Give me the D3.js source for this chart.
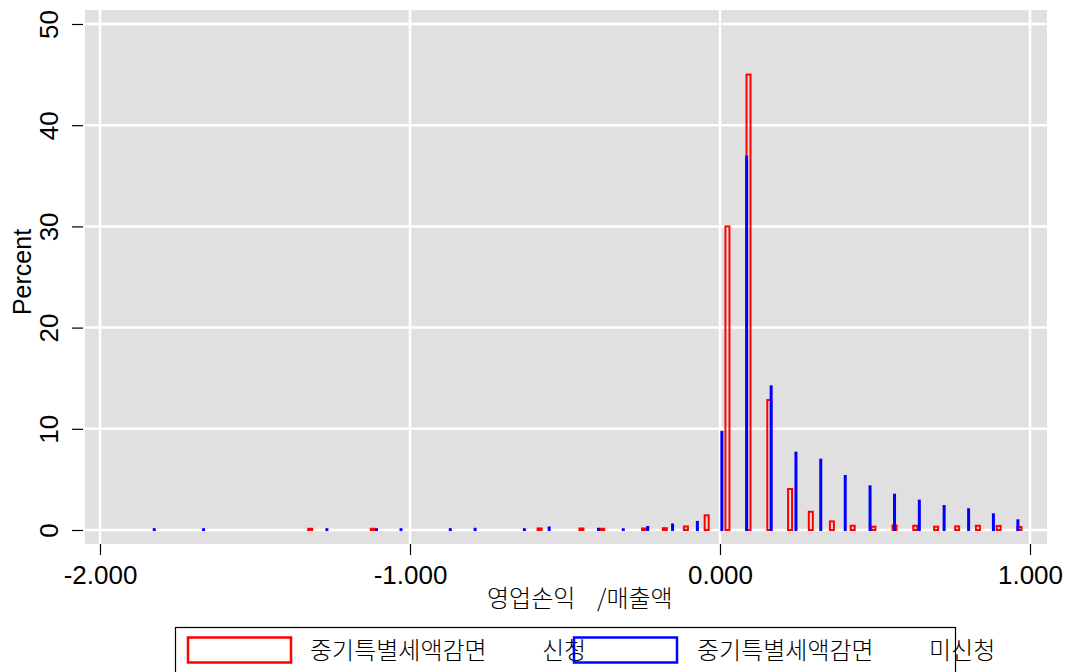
<!DOCTYPE html>
<html>
<head>
<meta charset="utf-8">
<script src="https://cdn.jsdelivr.net/npm/d3@7/dist/d3.min.js"></script>
<style>
  html, body { margin: 0; padding: 0; background: #fff; }
  svg { display: block; }
  .num { font-family: "Liberation Sans", Arial, sans-serif; }
  .kr { font-family: "Noto Sans CJK KR", "Noto Sans", sans-serif; font-weight: 300; }
</style>
</head>
<body>
<svg id="chart" width="1071" height="672"></svg>
<script>
// Histogram of operating profit / sales, split by application for the SME special tax reduction
// Applied group (red): bin midpoints and percent per bin
const appliedMid = [-1.322, -1.120, -0.582, -0.447, -0.380, -0.245, -0.178, -0.110, -0.043,
  0.024, 0.092, 0.159, 0.226, 0.293, 0.361, 0.428, 0.495, 0.563, 0.630, 0.697, 0.765, 0.832, 0.899, 0.966];
const appliedPct = [0.12, 0.12, 0.15, 0.15, 0.12, 0.15, 0.18, 0.35, 1.45,
  30.0, 45.0, 12.85, 4.05, 1.8, 0.85, 0.42, 0.33, 0.45, 0.42, 0.33, 0.36, 0.42, 0.4, 0.3];

// Non-applied group (blue): bin midpoints and percent per bin
const notAppliedMid = [-1.825, -1.666, -1.268, -1.108, -1.029, -0.870, -0.790, -0.631, -0.551,
  -0.392, -0.312, -0.233, -0.153, -0.073, 0.006, 0.086, 0.165, 0.245, 0.325, 0.404, 0.484,
  0.563, 0.643, 0.723, 0.802, 0.882, 0.961];
const notAppliedPct = [0.08, 0.08, 0.08, 0.08, 0.08, 0.08, 0.12, 0.08, 0.25,
  0.12, 0.08, 0.3, 0.55, 0.8, 9.7, 36.9, 14.2, 7.64, 6.95, 5.34, 4.32,
  3.49, 2.9, 2.37, 2.05, 1.55, 0.96];

const xTicks = [-2, -1, 0, 1];
const yTicks = [0, 10, 20, 30, 40, 50];
const xTitle = ["영업손익", "/매출액"];
const yTitle = "Percent";
const legendLabels = [["중기특별세액감면", "신청"], ["중기특별세액감면", "미신청"]];
const seriesColors = ["#ff0000", "#0000ff"];

const svg = d3.select("#chart");

const plot = { left: 85, right: 1047, top: 10, bottom: 544 };
const x = d3.scaleLinear().domain([-2, 1]).range([100, 1030]);
const y = d3.scaleLinear().domain([0, 50]).range([530, 24]);

// plot region background
svg.append("rect")
  .attr("x", plot.left).attr("y", plot.top)
  .attr("width", plot.right - plot.left).attr("height", plot.bottom - plot.top)
  .attr("fill", "#e0e0e0");

// grid lines
const grid = svg.append("g").attr("stroke", "#fff").attr("stroke-width", 2.5);
grid.selectAll("line.h").data(yTicks).join("line").attr("class", "h")
  .attr("x1", plot.left).attr("x2", plot.right)
  .attr("y1", d => y(d)).attr("y2", d => y(d));
grid.selectAll("line.v").data(xTicks).join("line").attr("class", "v")
  .attr("y1", plot.top).attr("y2", plot.bottom)
  .attr("x1", d => x(d)).attr("x2", d => x(d));

// bars: outlined, narrow within each bin
function drawBars(mids, pcts, color, barW) {
  const g = svg.append("g")
    .attr("fill", "none").attr("stroke", color).attr("stroke-width", 2);
  g.selectAll("rect").data(mids.map((m, i) => ({ m, p: pcts[i] }))).join("rect")
    .attr("x", d => x(d.m) - barW / 2)
    .attr("width", barW)
    .attr("y", d => y(d.p))
    .attr("height", d => y(0) - y(d.p));
}
drawBars(appliedMid, appliedPct, seriesColors[0], 4);
drawBars(notAppliedMid, notAppliedPct, seriesColors[1], 1);

// y axis
const yAxis = svg.append("g")
  .attr("transform", `translate(${plot.left - 2},0)`)
  .call(d3.axisLeft(y).tickValues(yTicks).tickSize(11).tickFormat(d3.format("d")));
yAxis.select(".domain").remove();
yAxis.selectAll(".tick line").attr("stroke", "#000").attr("stroke-width", 1.2);
yAxis.selectAll(".tick text")
  .attr("class", "num")
  .attr("font-size", 26).attr("fill", "#000")
  .attr("text-anchor", "middle")
  .attr("x", null).attr("dy", null)
  .attr("transform", "translate(-25,0) rotate(-90)");

// x axis (plain hyphen for the minus sign)
const fmtX = v => d3.format(".3f")(v).replace("\u2212", "-");
const xAxis = svg.append("g")
  .attr("transform", `translate(0,${plot.bottom})`)
  .call(d3.axisBottom(x).tickValues(xTicks).tickSize(11).tickFormat(fmtX));
xAxis.select(".domain").remove();
xAxis.selectAll(".tick line").attr("stroke", "#000").attr("stroke-width", 1.2);
xAxis.selectAll(".tick text")
  .attr("class", "num")
  .attr("font-size", 26).attr("fill", "#000")
  .attr("y", 40).attr("dy", null);

// axis titles
svg.append("text").attr("class", "num")
  .attr("transform", "translate(31,272) rotate(-90)")
  .attr("text-anchor", "middle").attr("font-size", 25).text(yTitle);

const xt = svg.append("text").attr("class", "kr")
  .attr("x", 487).attr("y", 607).attr("font-size", 24);
xt.append("tspan").text(xTitle[0]);
xt.append("tspan").attr("x", 597).text(xTitle[1]);

// legend
svg.append("rect")
  .attr("x", 175.5).attr("y", 627.5).attr("width", 780).attr("height", 60)
  .attr("fill", "#fff").attr("stroke", "#000").attr("stroke-width", 1.2);

const keyX = [188, 574];
const textX = [310, 697];
const tailX = [542, 929];
legendLabels.forEach((lab, i) => {
  const t = svg.append("text").attr("class", "kr")
    .attr("x", textX[i]).attr("y", 659).attr("font-size", 24).attr("fill", "#000");
  t.append("tspan").text(lab[0]);
  t.append("tspan").attr("x", tailX[i]).text(lab[1]);
});
legendLabels.forEach((lab, i) => {
  svg.append("rect")
    .attr("x", keyX[i]).attr("y", 637.5).attr("width", 103).attr("height", 25)
    .attr("fill", "none").attr("stroke", seriesColors[i]).attr("stroke-width", 2.5);
});
</script>
</body>
</html>
